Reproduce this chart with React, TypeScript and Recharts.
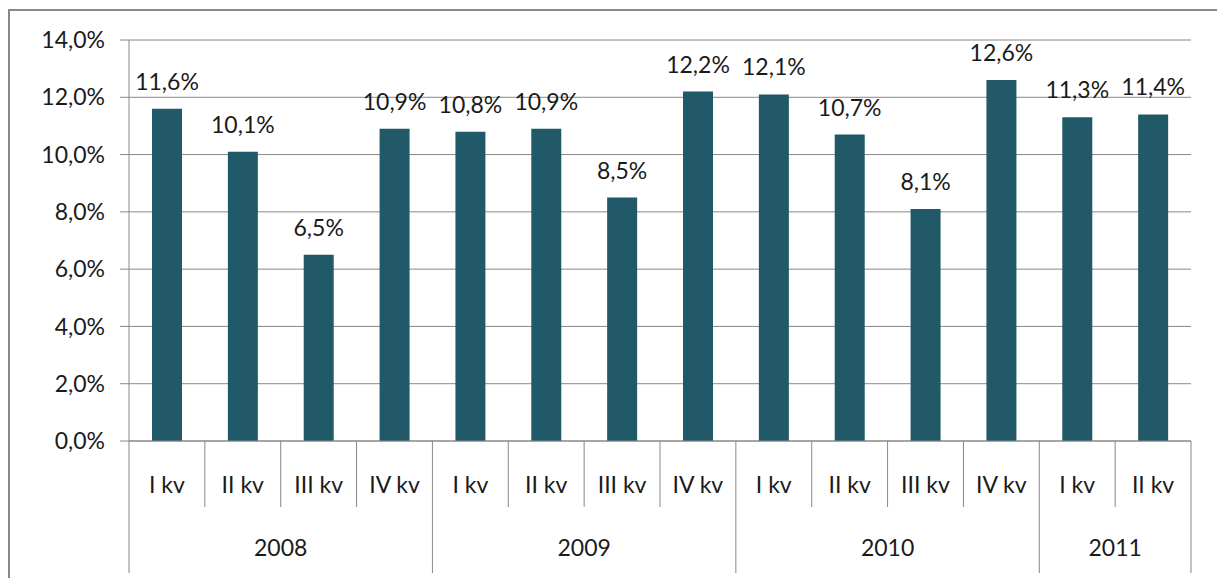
import React from 'react';
import { BarChart, Bar, XAxis, YAxis, CartesianGrid, LabelList } from 'recharts';

const years = ['2008', '2009', '2010', '2011'];
const quartersPerYear = [4, 4, 4, 2];
const quarterNames = ['I kv', 'II kv', 'III kv', 'IV kv'];
const values = [11.6, 10.1, 6.5, 10.9, 10.8, 10.9, 8.5, 12.2, 12.1, 10.7, 8.1, 12.6, 11.3, 11.4];
const yTicks = [0, 2, 4, 6, 8, 10, 12, 14];

type Row = { key: string; quarter: string; year: string; qIndex: number; yearSize: number; value: number };

const data: Row[] = [];
{
  let i = 0;
  years.forEach((y, yi) => {
    for (let q = 0; q < quartersPerYear[yi]; q++) {
      data.push({
        key: `${y}-${q}`,
        quarter: quarterNames[q],
        year: y,
        qIndex: q,
        yearSize: quartersPerYear[yi],
        value: values[i],
      });
      i++;
    }
  });
}

const FONT = 'Lato, "Liberation Sans", sans-serif';
const FS = 23;
const GRID = '#888888';
const TEXT = '#1a1a1a';
const BAR = '#215968';

const fmt = (v: number) => v.toFixed(1).replace('.', ',') + '%';

const XTick = (props: any) => {
  const { x, y, payload, index } = props;
  const row = data[index];
  const half = payload.offset || 0;
  const left = x - half;
  const isFirst = row.qIndex === 0;
  const isLast = index === data.length - 1;
  return (
    <g>
      <line x1={left} x2={left} y1={y} y2={y + (isFirst ? 132 : 66)} stroke={GRID} strokeWidth={1} />
      {isLast && (
        <line x1={x + half} x2={x + half} y1={y} y2={y + 132} stroke={GRID} strokeWidth={1} />
      )}
      <text x={x} y={y + 44} dy="0.35em" textAnchor="middle" fill={TEXT} fontSize={FS} fontFamily={FONT}>
        {row.quarter}
      </text>
      {isFirst && (
        <text
          x={left + row.yearSize * half}
          y={y + 107}
          dy="0.35em"
          textAnchor="middle"
          fill={TEXT}
          fontSize={FS}
          fontFamily={FONT}
        >
          {row.year}
        </text>
      )}
    </g>
  );
};

export default function App() {
  return (
    <div style={{ paddingLeft: 8, paddingTop: 9 }}>
      <style>{'body{margin:0;overflow:hidden}'}</style>
      <div
        style={{
          width: 1215,
          height: 600,
          borderTop: `2px solid ${GRID}`,
          borderLeft: `2px solid ${GRID}`,
          background: '#fff',
        }}
      >
        <BarChart
          width={1205}
          height={580}
          data={data}
          margin={{ top: 29, right: 24, left: 0, bottom: 10 }}
        >
          <CartesianGrid vertical={false} stroke={GRID} strokeWidth={1} />
          <XAxis
            dataKey="key"
            height={140}
            interval={0}
            axisLine={{ stroke: GRID }}
            tickLine={false}
            tickSize={0}
            tickMargin={0}
            tick={<XTick />}
          />
          <YAxis
            width={119}
            domain={[0, 14]}
            ticks={yTicks}
            interval={0}
            tickFormatter={fmt}
            axisLine={{ stroke: GRID }}
            tickLine={{ stroke: GRID }}
            tickSize={9}
            tickMargin={15}
            tick={{ fill: TEXT, fontSize: FS, fontFamily: FONT }}
          />
          <Bar dataKey="value" fill={BAR} barSize={30} isAnimationActive={false}>
            <LabelList
              dataKey="value"
              position="top"
              offset={19}
              formatter={(v: any) => fmt(Number(v))}
              style={{ fill: TEXT, fontSize: FS, fontFamily: FONT }}
            />
          </Bar>
        </BarChart>
      </div>
    </div>
  );
}
